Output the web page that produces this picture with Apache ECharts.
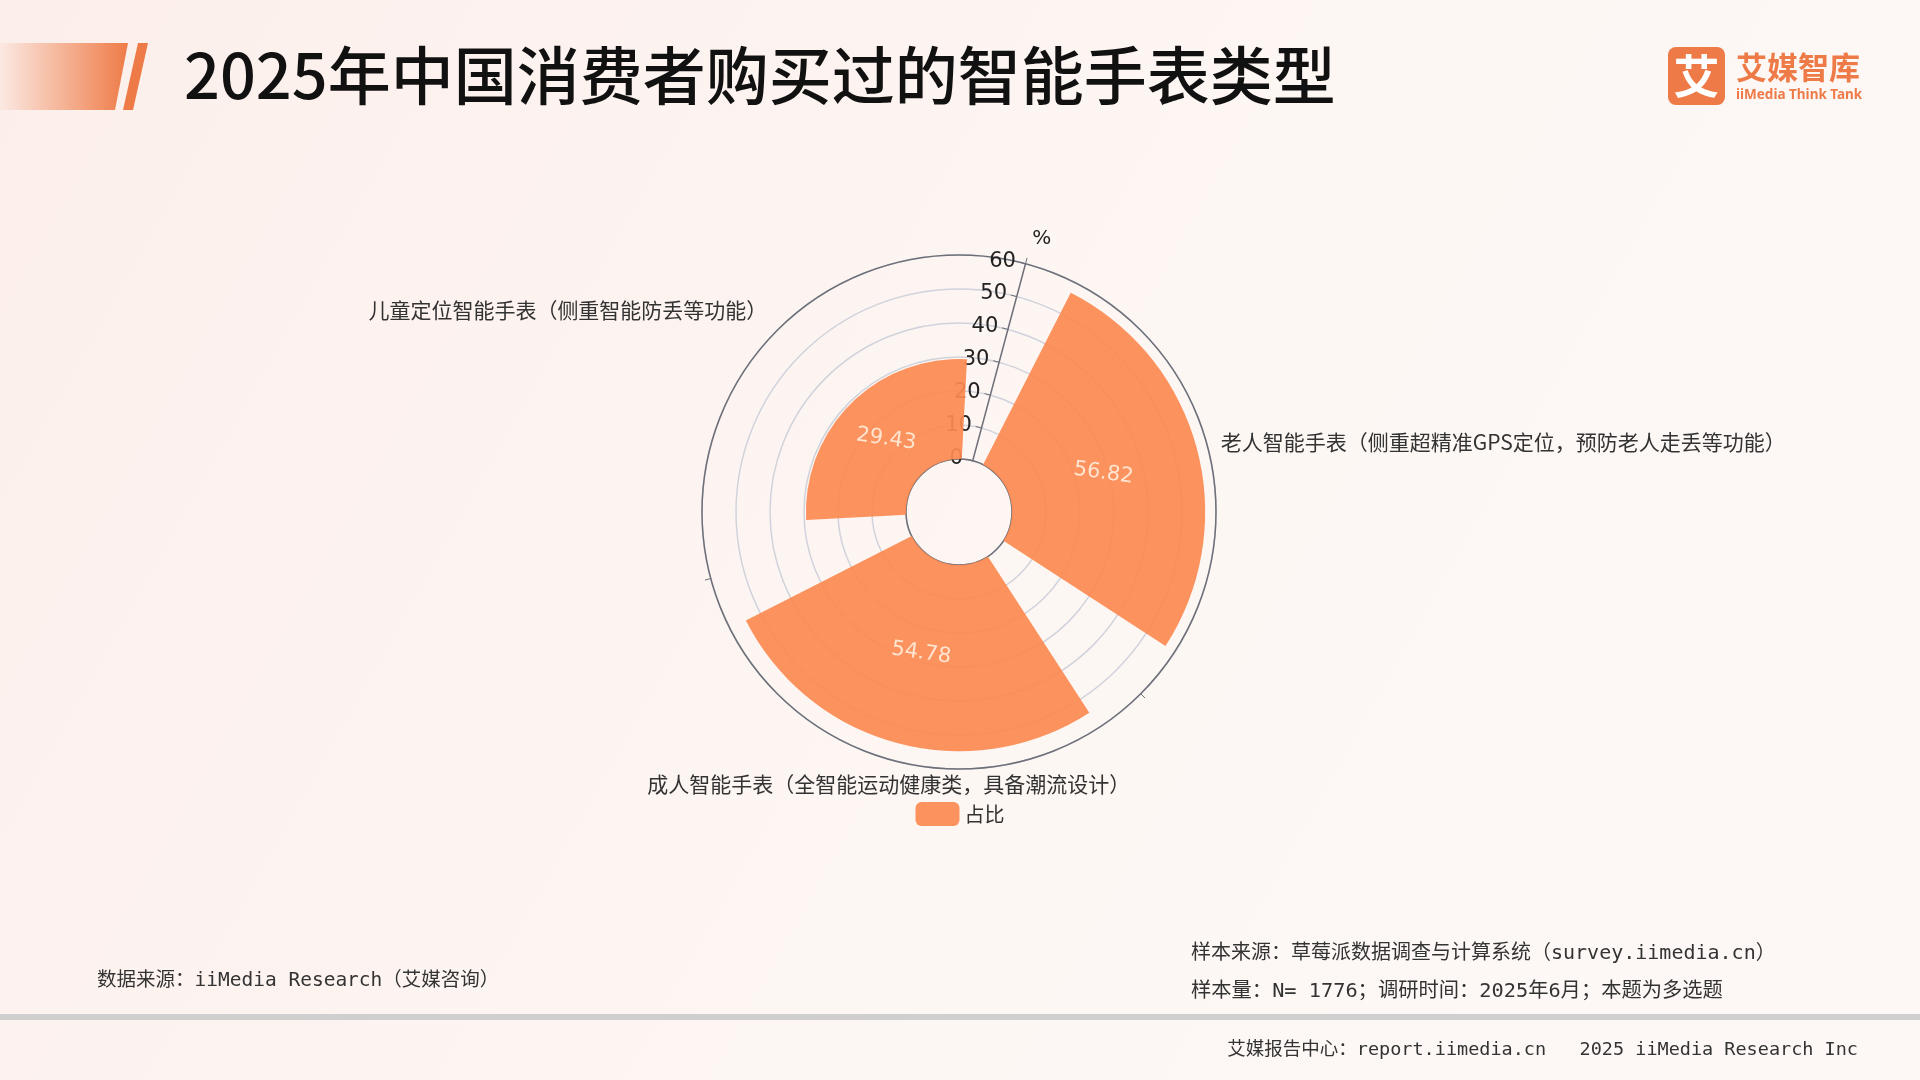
<!DOCTYPE html>
<html>
<head>
<meta charset="utf-8">
<script src="https://cdn.jsdelivr.net/npm/echarts@6/dist/echarts.min.js"></script>
<style>
html,body{margin:0;padding:0;width:1920px;height:1080px;overflow:hidden;}
#chart{width:1920px;height:1080px;}
</style>
</head>
<body>
<div id="chart"></div>
<script>
const titleText = '2025年中国消费者购买过的智能手表类型';
const categories = [
  '老人智能手表（侧重超精准GPS定位，预防老人走丢等功能）',
  '成人智能手表（全智能运动健康类，具备潮流设计）',
  '儿童定位智能手表（侧重智能防丢等功能）'
];
const shareValues = [56.82, 54.78, 29.43];
const seriesName = '占比';
const radiusTicks = { min: 0, max: 60, interval: 10 };
const sourceText = '数据来源：iiMedia Research（艾媒咨询）';
const sampleSource = '样本来源：草莓派数据调查与计算系统（survey.iimedia.cn）';
const sampleSize = '样本量：N= 1776；调研时间：2025年6月；本题为多选题';
const footerText = '艾媒报告中心：report.iimedia.cn   2025 iiMedia Research Inc';

const CJK = "'Noto Sans CJK SC', 'Noto Sans', sans-serif";
const MONO = "'DejaVu Sans Mono', 'Noto Sans CJK SC', monospace";
const ORANGE = '#EE7B47';

const chart = echarts.init(document.getElementById('chart'));
chart.setOption({
  backgroundColor: {
    type: 'linear', x: 0, y: 0, x2: 1, y2: 1,
    colorStops: [
      { offset: 0, color: '#FCEFEB' },
      { offset: 0.6, color: '#FDF7F4' },
      { offset: 1, color: '#FDF8F6' }
    ]
  },
  title: {
    text: titleText,
    left: 179,
    top: 39,
    textStyle: { fontFamily: CJK, fontSize: 63, fontWeight: 500, color: '#111' }
  },
  legend: {
    data: [seriesName],
    left: 'center',
    top: 797,
    itemWidth: 44,
    itemHeight: 24,
    itemGap: 10,
    textStyle: { fontFamily: CJK, fontSize: 20, color: '#333' }
  },
  polar: {
    center: [959, 512],
    radius: [53, 257]
  },
  angleAxis: {
    type: 'category',
    data: categories,
    startAngle: 75,
    clockwise: true,
    axisLine: { show: true, lineStyle: { color: '#6E7079', width: 1.5 } },
    axisTick: { show: true, length: 6, lineStyle: { color: '#6E7079' } },
    axisLabel: { margin: 14, fontFamily: CJK, fontSize: 21, color: '#333' },
    splitLine: { show: false }
  },
  radiusAxis: {
    type: 'value',
    min: radiusTicks.min,
    max: radiusTicks.max,
    interval: radiusTicks.interval,
    name: '%',
    nameLocation: 'end',
    nameGap: 26,
    nameTextStyle: { fontFamily: "'DejaVu Sans', sans-serif", fontSize: 20, color: '#222' },
    axisLine: { show: true, lineStyle: { color: '#6E7079', width: 1.5 } },
    axisTick: { show: true, length: 6, lineStyle: { color: '#6E7079' } },
    axisLabel: { fontFamily: "'DejaVu Sans', sans-serif", fontSize: 21, color: '#222', margin: 10 },
    splitLine: { show: true, lineStyle: { color: '#D0D3DB', width: 1.5 } }
  },
  series: [{
    name: seriesName,
    type: 'bar',
    coordinateSystem: 'polar',
    data: shareValues,
    barCategoryGap: '20%',
    itemStyle: { color: '#FC8A52', opacity: 0.93 },
    label: {
      show: true,
      position: 'middle',
      rotate: -0.14,
      fontFamily: "'DejaVu Sans', sans-serif",
      fontSize: 21,
      color: '#FFEBD8'
    }
  }],
  graphic: [
    {
      type: 'polygon', silent: true,
      shape: { points: [[0, 43], [128, 43], [115, 110], [0, 110]] },
      style: {
        fill: {
          type: 'linear', x: 0, y: 0, x2: 1, y2: 0,
          colorStops: [
            { offset: 0, color: 'rgba(238,123,71,0.05)' },
            { offset: 1, color: 'rgba(238,123,71,1)' }
          ]
        }
      }
    },
    {
      type: 'polygon', silent: true,
      shape: { points: [[138, 43], [148, 43], [133, 110], [123, 110]] },
      style: { fill: ORANGE }
    },
    {
      type: 'rect', silent: true,
      shape: { x: 1668, y: 47, width: 57, height: 58, r: 8 },
      style: { fill: ORANGE }
    },
    {
      type: 'text', silent: true,
      style: { text: '艾', x: 1696.5, y: 76, align: 'center', verticalAlign: 'middle',
        fontFamily: CJK, fontSize: 46, fontWeight: 'bold', fill: '#fff' }
    },
    {
      type: 'text', silent: true,
      style: { text: '艾媒智库', x: 1736, y: 67, verticalAlign: 'middle',
        fontFamily: CJK, fontSize: 31, fontWeight: 'bold', fill: ORANGE }
    },
    {
      type: 'text', silent: true,
      style: { text: 'iiMedia Think Tank', x: 1736, y: 95, verticalAlign: 'middle',
        fontFamily: "'Noto Sans', sans-serif", fontSize: 13.5, fontWeight: 'bold', fill: ORANGE }
    },
    {
      type: 'text', silent: true,
      style: { text: sourceText, x: 97, y: 981, verticalAlign: 'middle',
        fontFamily: MONO, fontSize: 19.5, fill: '#333' }
    },
    {
      type: 'text', silent: true,
      style: { text: sampleSource, x: 1191, y: 954, verticalAlign: 'middle',
        fontFamily: MONO, fontSize: 20, fill: '#333' }
    },
    {
      type: 'text', silent: true,
      style: { text: sampleSize, x: 1191, y: 992, verticalAlign: 'middle',
        fontFamily: MONO, fontSize: 20.3, fill: '#333' }
    },
    {
      type: 'rect', silent: true,
      shape: { x: 0, y: 1014, width: 1920, height: 6 },
      style: { fill: '#CFCFCF' }
    },
    {
      type: 'text', silent: true,
      style: { text: footerText, x: 1858, y: 1050, align: 'right', verticalAlign: 'middle',
        fontFamily: MONO, fontSize: 18.5, fill: '#333' }
    }
  ]
});
</script>
</body>
</html>
